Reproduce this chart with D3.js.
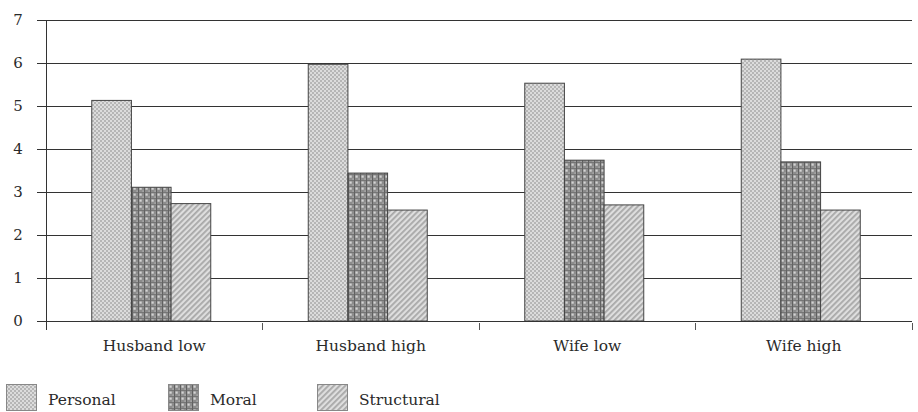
<!DOCTYPE html>
<html><head><meta charset="utf-8">
<script src="https://cdn.jsdelivr.net/npm/d3@7/dist/d3.min.js"></script>
<style>body{margin:0;background:#fff}svg{display:block}text{font-family:"DejaVu Serif","Liberation Serif",serif;fill:#2a2a2a}</style>
</head><body><svg id="c" width="918" height="412"></svg>
<script>
const categories = ["Husband low","Husband high","Wife low","Wife high"];
const seriesNames = ["Personal","Moral","Structural"];
const personal = [5.13, 5.97, 5.53, 6.09];
const moral = [3.11, 3.44, 3.74, 3.70];
const structural = [2.73, 2.58, 2.70, 2.58];
const yTicks = [0,1,2,3,4,5,6,7];

const values = [personal, moral, structural];
const svg = d3.select("#c");
const defs = svg.append("defs");

// Personal: light checker dots
let p = defs.append("pattern").attr("id","pPersonal").attr("width",4).attr("height",4).attr("patternUnits","userSpaceOnUse");
p.append("rect").attr("width",4).attr("height",4).attr("fill","#dcdcdc");
p.append("rect").attr("width",2).attr("height",2).attr("fill","#b6b6b6");
p.append("rect").attr("x",2).attr("y",2).attr("width",2).attr("height",2).attr("fill","#b6b6b6");
// Moral: mid-grey with light dots and faint grid
let m = defs.append("pattern").attr("id","pMoral").attr("width",6).attr("height",6).attr("patternUnits","userSpaceOnUse");
m.append("rect").attr("width",6).attr("height",6).attr("fill","#8c8c8c");
m.append("rect").attr("x",1.5).attr("y",1.5).attr("width",2.2).attr("height",2.2).attr("fill","#d4d4d4");
m.append("rect").attr("x",4.5).attr("y",4.5).attr("width",1.2).attr("height",1.2).attr("fill","#bcbcbc");
m.append("rect").attr("x",0).attr("y",0).attr("width",0.8).attr("height",6).attr("fill","#555");
m.append("rect").attr("x",0).attr("y",0).attr("width",6).attr("height",0.6).attr("fill","#666");
// Structural: diagonal stripes
let s = defs.append("pattern").attr("id","pStructural").attr("width",4).attr("height",4).attr("patternUnits","userSpaceOnUse").attr("patternTransform","rotate(45)");
s.append("rect").attr("width",4).attr("height",4).attr("fill","#dedede");
s.append("rect").attr("width",1.8).attr("height",4).attr("fill","#a8a8a8");
const fills = ["url(#pPersonal)","url(#pMoral)","url(#pStructural)"];

const x = d3.scaleBand().domain(categories).range([46, 912]).padding(0);
const y = d3.scaleLinear().domain([0,7]).range([321, 20]);
const groupW = 119;
const xs = d3.scaleBand().domain(seriesNames).range([0, groupW]).padding(0);

// gridlines
svg.append("g").selectAll("line").data(yTicks).join("line")
  .attr("x1",37).attr("x2",912).attr("y1",d=>y(d)).attr("y2",d=>y(d))
  .attr("stroke","#333").attr("stroke-width",1).attr("shape-rendering","crispEdges");
// y tick labels
svg.append("g").selectAll("text").data(yTicks).join("text")
  .attr("x",18).attr("y",d=>y(d)+5).attr("text-anchor","middle").attr("font-size",15).text(d=>d);
// y axis line
svg.append("line").attr("x1",46).attr("x2",46).attr("y1",y(7)).attr("y2",330)
  .attr("stroke","#333").attr("shape-rendering","crispEdges");

// bars
categories.forEach((c,ci)=>{
  const gx = x(c) + (x.bandwidth()-groupW)/2 - 3;
  seriesNames.forEach((sn,si)=>{
    svg.append("rect").attr("x",gx+xs(sn)).attr("y",y(values[si][ci]))
      .attr("width",xs.bandwidth()).attr("height",y(0)-y(values[si][ci]))
      .attr("fill",fills[si]).attr("stroke","#444").attr("stroke-width",1);
  });
});

// x axis line and ticks
svg.append("line").attr("x1",37).attr("x2",912).attr("y1",y(0)).attr("y2",y(0))
  .attr("stroke","#333").attr("shape-rendering","crispEdges");
svg.append("g").selectAll("line").data(categories).join("line")
  .attr("x1",d=>x(d)+x.bandwidth()).attr("x2",d=>x(d)+x.bandwidth())
  .attr("y1",y(0)+2).attr("y2",330).attr("stroke","#555").attr("shape-rendering","crispEdges");
svg.append("g").selectAll("text").data(categories).join("text")
  .attr("x",d=>x(d)+x.bandwidth()/2).attr("y",351).attr("text-anchor","middle").attr("font-size",15.5).text(d=>d);

// legend
const legX = [6, 168, 317];
seriesNames.forEach((sn,i)=>{
  svg.append("rect").attr("x",legX[i]+0.5).attr("y",384.5).attr("width",30).attr("height",26)
    .attr("fill",fills[i]).attr("stroke","#888");
  svg.append("text").attr("x",legX[i]+42).attr("y",405).attr("font-size",15.5).text(sn);
});
</script></body></html>
